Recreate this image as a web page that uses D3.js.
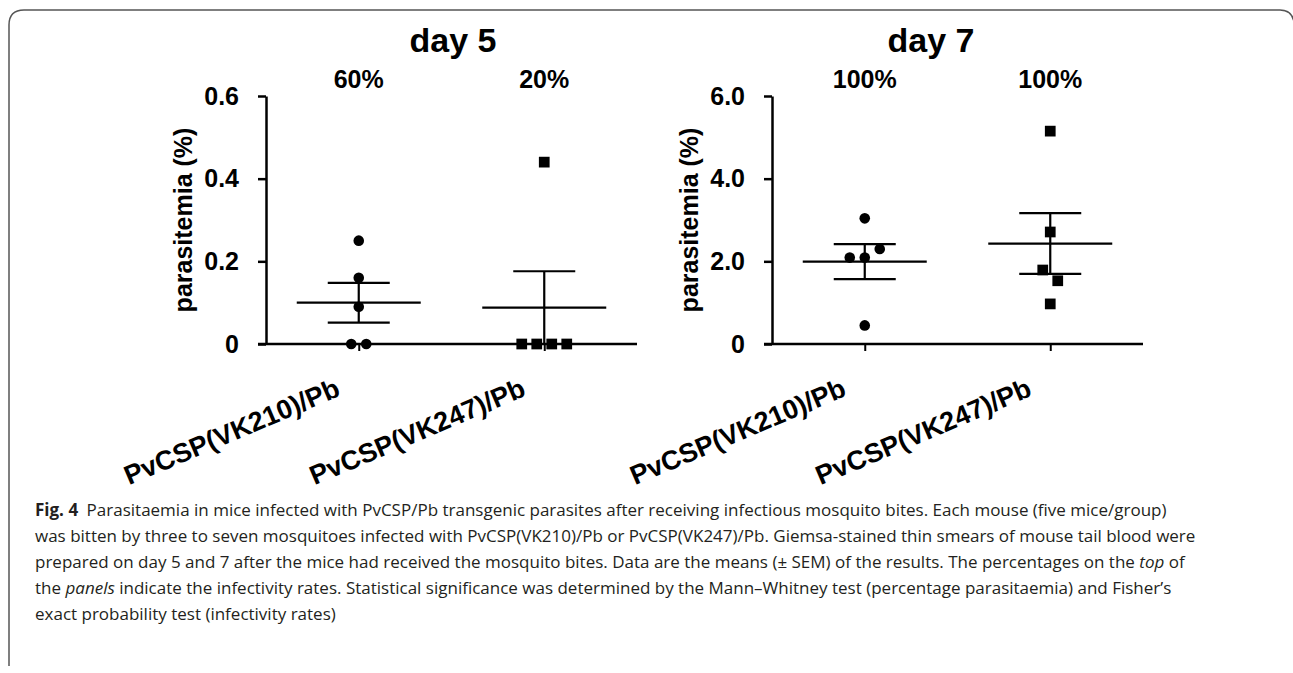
<!DOCTYPE html>
<html lang="en">
<head>
<meta charset="UTF-8">
<title>Fig. 4 - Parasitaemia in mice</title>
<script src="https://cdn.jsdelivr.net/npm/d3@7"></script>
<style>
body {
    margin: 0;
    background: #fff;
}
svg {
    display: block;
}
.chart text {
    font-family: "Liberation Sans", Arial, sans-serif;
    font-weight: bold;
    fill: #000;
}
.caption {
    font-family: "Open Sans", sans-serif;
    font-size: 17px;
    fill: #231f20;
}
</style>
</head>
<body>
<svg id="fig" width="1293" height="673"></svg>
<script>

// groups on the x axis
const groups = ["PvCSP(VK210)/Pb", "PvCSP(VK247)/Pb"];
const dayTitles = ["day 5", "day 7"];
// infectivity rates printed above each group
const rateDay5 = ["60%", "20%"];
const rateDay7 = ["100%", "100%"];

// parasitemia (%) of each mouse
const day5VK210 = [0.25, 0.16, 0.09, 0, 0];
const day5VK247 = [0.44, 0, 0, 0, 0];
const day7VK210 = [3.04, 2.09, 2.09, 2.30, 0.45];
const day7VK247 = [5.15, 2.71, 1.79, 1.53, 0.97];

// y axis ticks
const day5Ticks = [0, 0.2, 0.4, 0.6];
const day5TickLabels = ["0", "0.2", "0.4", "0.6"];
const day7Ticks = [0, 2, 4, 6];
const day7TickLabels = ["0", "2.0", "4.0", "6.0"];

const yLabel = "parasitemia (%)";

// layout
const Y_TOP = 96;
const Y_BOTTOM = 344;
const TICK = 8;
const AXIS_W = 2.5;
const LINE_W = 2.2;
const MEAN_HALF = 62;
const CAP_HALF = 31;
const SPREAD_STEP = 15;
const OVERLAP_PX = 12;
const LABEL_ANGLE = -23;

const panels = [
    {
        title: dayTitles[0], titleX: 453, axisX: 266, right: 637,
        series: [day5VK210, day5VK247], rates: rateDay5,
        ticks: day5Ticks, tickLabels: day5TickLabels
    },
    {
        title: dayTitles[1], titleX: 931, axisX: 772, right: 1143,
        series: [day7VK210, day7VK247], rates: rateDay7,
        ticks: day7Ticks, tickLabels: day7TickLabels
    }
];

const svg = d3.select("#fig");

// spread points that overlap vertically side by side, as Prism does
function spread(values, y) {
    const order = d3.range(values.length).sort((a, b) => values[b] - values[a]);
    const offsets = new Array(values.length).fill(0);
    const flush = cluster => {
        cluster.sort((a, b) => a - b);
        cluster.forEach((idx, k) => {
            offsets[idx] = (k - (cluster.length - 1) / 2) * SPREAD_STEP;
        });
    };
    let cluster = [order[0]];
    for (let k = 1; k < order.length; k++) {
        if (Math.abs(y(values[order[k]]) - y(values[order[k - 1]])) < OVERLAP_PX) {
            cluster.push(order[k]);
        } else {
            flush(cluster);
            cluster = [order[k]];
        }
    }
    flush(cluster);
    return offsets;
}

function drawPanel(p) {
    const g = svg.append("g").attr("class", "chart");
    const y = d3.scaleLinear()
        .domain([0, d3.max(p.ticks)])
        .range([Y_BOTTOM, Y_TOP]);
    const x = d3.scalePoint()
        .domain(groups)
        .range([p.axisX, p.right])
        .padding(0.5);

    // y axis
    const yAxis = g.append("g")
        .attr("transform", `translate(${p.axisX},0)`)
        .call(d3.axisLeft(y)
            .tickValues(p.ticks)
            .tickFormat((d, i) => p.tickLabels[i])
            .tickSize(TICK)
            .tickSizeOuter(0)
            .tickPadding(19));
    yAxis.selectAll("path, line")
        .attr("stroke", "#000")
        .attr("stroke-width", AXIS_W);
    yAxis.selectAll("text")
        .style("font-size", "25px");

    // x axis, starts at the end of the y ticks
    const xAxis = g.append("g")
        .attr("transform", `translate(0,${Y_BOTTOM})`)
        .call(d3.axisBottom(x).tickSize(7).tickSizeOuter(0).tickFormat(""));
    xAxis.select(".domain").remove();
    xAxis.selectAll("line")
        .attr("stroke", "#000")
        .attr("stroke-width", 2);
    xAxis.append("line")
        .attr("x1", p.axisX - TICK)
        .attr("x2", p.right)
        .attr("stroke", "#000")
        .attr("stroke-width", AXIS_W);

    g.append("text")
        .attr("transform", `translate(${p.axisX - 74},${(Y_TOP + Y_BOTTOM) / 2}) rotate(-90)`)
        .attr("text-anchor", "middle")
        .style("font-size", "25px")
        .text(yLabel);

    g.append("text")
        .attr("x", p.titleX)
        .attr("y", 52)
        .attr("text-anchor", "middle")
        .style("font-size", "34px")
        .text(p.title);

    groups.forEach((name, gi) => {
        const cx = x(name);
        const values = p.series[gi];
        const offsets = spread(values, y);
        const mean = d3.mean(values);
        const sem = d3.deviation(values) / Math.sqrt(values.length);

        g.append("text")
            .attr("x", cx)
            .attr("y", 88)
            .attr("text-anchor", "middle")
            .style("font-size", "25px")
            .text(p.rates[gi]);

        g.append("text")
            .attr("transform", `translate(${cx - 17},${Y_BOTTOM + 51}) rotate(${LABEL_ANGLE})`)
            .attr("text-anchor", "end")
            .style("font-size", "27px")
            .text(name);

        const symbol = d3.symbol()
            .type(gi === 0 ? d3.symbolCircle : d3.symbolSquare)
            .size(gi === 0 ? 88 : 115);
        g.append("g")
            .selectAll("path")
            .data(values)
            .join("path")
            .attr("transform", (d, i) => `translate(${cx + offsets[i]},${y(d)})`)
            .attr("d", symbol)
            .attr("fill", "#000");

        // mean with SEM whiskers
        const bars = g.append("g")
            .attr("stroke", "#000")
            .attr("stroke-width", LINE_W);
        bars.append("line")
            .attr("x1", cx - MEAN_HALF).attr("x2", cx + MEAN_HALF)
            .attr("y1", y(mean)).attr("y2", y(mean));
        bars.append("line")
            .attr("x1", cx).attr("x2", cx)
            .attr("y1", y(mean - sem)).attr("y2", y(mean + sem));
        for (const v of [mean - sem, mean + sem]) {
            bars.append("line")
                .attr("x1", cx - CAP_HALF).attr("x2", cx + CAP_HALF)
                .attr("y1", y(v)).attr("y2", y(v));
        }
    });
}

panels.forEach(drawPanel);

// figure frame: top and left edges with rounded corners
svg.append("path")
    .attr("d", "M9,666 V25 Q9,10 24,10 H1280 Q1292,10 1294,22")
    .attr("fill", "none")
    .attr("stroke", "#555")
    .attr("stroke-width", 1.5);

// caption
const captionLines = [
    [["Fig. 4", "bold"], ["\u2002Parasitaemia in mice infected with PvCSP/Pb transgenic parasites after receiving infectious mosquito bites. Each mouse (five mice/group)", ""]],
    [["was bitten by three to seven mosquitoes infected with PvCSP(VK210)/Pb or PvCSP(VK247)/Pb. Giemsa-stained thin smears of mouse tail blood were", ""]],
    [["prepared on day 5 and 7 after the mice had received the mosquito bites. Data are the means (\u00b1 SEM) of the results. The percentages on the ", ""], ["top", "italic"], [" of", ""]],
    [["the ", ""], ["panels", "italic"], [" indicate the infectivity rates. Statistical significance was determined by the Mann\u2013Whitney test (percentage parasitaemia) and Fisher\u2019s", ""]],
    [["exact probability test (infectivity rates)", ""]]
];
const CAPTION_X = 35;
const CAPTION_Y = 516;
const CAPTION_LEAD = 26;

captionLines.forEach((parts, li) => {
    const t = svg.append("text")
        .attr("class", "caption")
        .attr("x", CAPTION_X)
        .attr("y", CAPTION_Y + li * CAPTION_LEAD)
        .attr("xml:space", "preserve");
    for (const [str, style] of parts) {
        const s = t.append("tspan").text(str);
        if (style === "bold") s.attr("font-weight", "bold");
        if (style === "italic") s.attr("font-style", "italic");
    }
});

</script>
</body>
</html>
